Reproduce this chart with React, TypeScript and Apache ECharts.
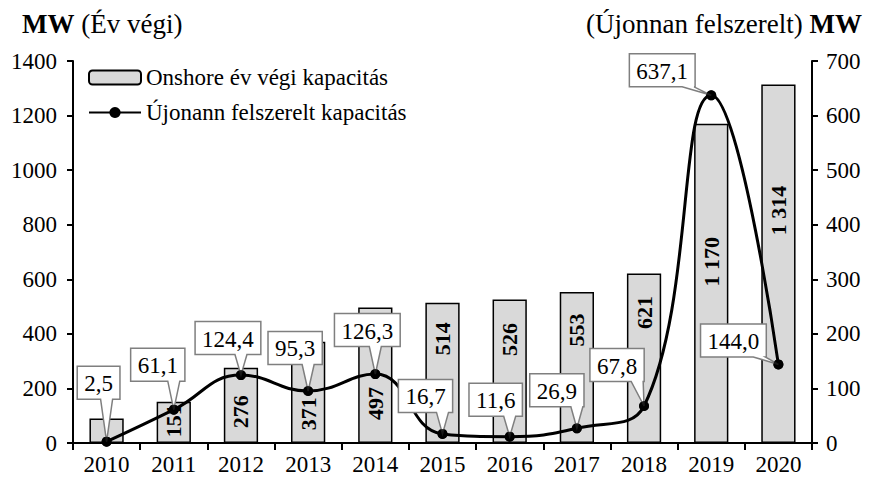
import React, { useEffect, useRef } from 'react';
import * as echarts from 'echarts';

// ---- data ----
const years = ['2010', '2011', '2012', '2013', '2014', '2015', '2016', '2017', '2018', '2019', '2020'];
const yearEndCapacity = [90, 151, 276, 371, 497, 514, 526, 553, 621, 1170, 1314];
const newlyInstalled = [2.5, 61.1, 124.4, 95.3, 126.3, 16.7, 11.6, 26.9, 67.8, 637.1, 144.0];
const barSeriesName = 'Onshore év végi kapacitás';
const lineSeriesName = 'Újonann felszerelt kapacitás';

// ---- styles (pixel placements of labels) ----
const FONT = "'Liberation Serif', 'Times New Roman', serif";
const barLabelDrop: (number | null)[] = [null, 19, 44, 72, 96, 36, 40, 38, 39, 138, 126];
const calloutOffset: [number, number][] = [
  [-8, -59], [-16, -45], [-13, -37], [-13, -43], [-8, -44], [-17, -38],
  [-14, -37], [-20, -38], [-27, -41], [-49, -25], [-45, -24],
];

const fmtDec = (v: number) => v.toFixed(1).replace('.', ',');
const fmtThousands = (v: number) => String(v).replace(/\B(?=(\d{3})+(?!\d))/g, ' ');

let measureCtx: CanvasRenderingContext2D | null = null;
const measure = (t: string) => {
  if (!measureCtx) {
    measureCtx = document.createElement('canvas').getContext('2d');
  }
  if (!measureCtx) return t.length * 11;
  measureCtx.font = `23px ${FONT}`;
  return measureCtx.measureText(t).width;
};

export default function App() {
  const ref = useRef<HTMLDivElement>(null);
  useEffect(() => {
    document.body.style.margin = '0';
    if (!ref.current) return;
    const chart = echarts.init(ref.current, undefined, { renderer: 'svg' });
    const axisText = { color: '#000', fontSize: 23, fontFamily: FONT, formatter: (v: any) => String(v) };
    const option: any = {
      animation: false,
      textStyle: { fontFamily: FONT },
      grid: { left: 73, right: 58, top: 61, bottom: 38, containLabel: false },
      graphic: [
        {
          type: 'text', left: 22, top: 10,
          style: {
            text: '{b|MW} (Év végi)',
            fontSize: 27, fontFamily: FONT, fill: '#000',
            rich: { b: { fontWeight: 'bold', fontSize: 27, fontFamily: FONT } },
          },
        },
        {
          type: 'text', right: 8, top: 10,
          style: {
            text: '(Újonnan felszerelt) {b|MW}',
            fontSize: 27, fontFamily: FONT, fill: '#000',
            rich: { b: { fontWeight: 'bold', fontSize: 27, fontFamily: FONT } },
          },
        },
      ],
      legend: {
        data: [barSeriesName, lineSeriesName],
        orient: 'vertical', left: 88, top: 66, padding: 0,
        itemWidth: 52, itemHeight: 14, itemGap: 12,
        textStyle: { color: '#000', fontSize: 23, fontFamily: FONT },
      },
      xAxis: {
        type: 'category', data: years,
        axisLine: { lineStyle: { color: '#000', width: 2 } },
        axisTick: { show: true, length: 7, lineStyle: { color: '#000', width: 2 } },
        axisLabel: { color: '#000', fontSize: 23, fontFamily: FONT, margin: 10 },
      },
      yAxis: [
        {
          type: 'value', min: 0, max: 1400, interval: 200,
          axisLine: { show: true, lineStyle: { color: '#000', width: 2 } },
          axisTick: { show: true, length: 6, lineStyle: { color: '#000', width: 2 } },
          axisLabel: { ...axisText, margin: 16 },
          splitLine: { show: false },
        },
        {
          type: 'value', min: 0, max: 700, interval: 100, position: 'right',
          axisLine: { show: true, lineStyle: { color: '#000', width: 2 } },
          axisTick: { show: true, length: 6, lineStyle: { color: '#000', width: 2 } },
          axisLabel: { ...axisText, margin: 14 },
          splitLine: { show: false },
        },
      ],
      series: [
        {
          type: 'bar', name: barSeriesName, yAxisIndex: 0, barWidth: '51%',
          itemStyle: { color: '#d9d9d9', borderColor: '#000', borderWidth: 1.5 },
          label: {
            show: true, rotate: 90, align: 'center', verticalAlign: 'middle',
            fontWeight: 'bold', fontSize: 22, fontFamily: FONT, color: '#000',
            formatter: (p: any) => fmtThousands(p.value),
          },
          data: yearEndCapacity.map((v, i) => ({
            value: v,
            label: barLabelDrop[i] == null ? { show: false } : { position: ['50%', barLabelDrop[i]] },
          })),
          z: 2,
        },
        {
          type: 'line', name: lineSeriesName, yAxisIndex: 1, smooth: 0.45,
          data: newlyInstalled,
          symbol: 'circle', symbolSize: 10,
          lineStyle: { color: '#000', width: 3 },
          itemStyle: { color: '#000' },
          z: 3,
        },
        {
          type: 'custom', name: 'callouts', yAxisIndex: 1, silent: true, z: 4,
          data: newlyInstalled.map((v, i) => [i, v]),
          renderItem: (params: any, api: any) => {
            const i = params.dataIndex;
            const p = api.coord([api.value(0), api.value(1)]);
            const text = fmtDec(newlyInstalled[i]);
            const w = measure(text) + 14;
            const h = 33;
            const [dx, dy] = calloutOffset[i];
            const cx = p[0] + dx, cy = p[1] + dy;
            const L = cx - w / 2, R = cx + w / 2, T = cy - h / 2, B = cy + h / 2;
            const bx = Math.min(Math.max(p[0], L + 9), R - 7);
            return {
              type: 'group',
              children: [
                {
                  type: 'polygon',
                  shape: { points: [[L, T], [R, T], [R, B], [bx + 6, B], [p[0], p[1]], [bx - 6, B], [L, B]] },
                  style: { fill: '#fff', stroke: '#7f7f7f', lineWidth: 1.5 },
                },
                {
                  type: 'text', x: cx, y: cy + 1,
                  style: {
                    text, fill: '#000', fontSize: 23, fontFamily: FONT,
                    align: 'center', verticalAlign: 'middle',
                  },
                },
              ],
            };
          },
        },
        {
          type: 'scatter', name: 'markers', yAxisIndex: 1, silent: true, z: 5,
          data: newlyInstalled, symbol: 'circle', symbolSize: 10,
          itemStyle: { color: '#000' },
        },
      ],
    };
    chart.setOption(option);
    return () => chart.dispose();
  }, []);
  return <div ref={ref} style={{ width: 870, height: 481 }} />;
}
